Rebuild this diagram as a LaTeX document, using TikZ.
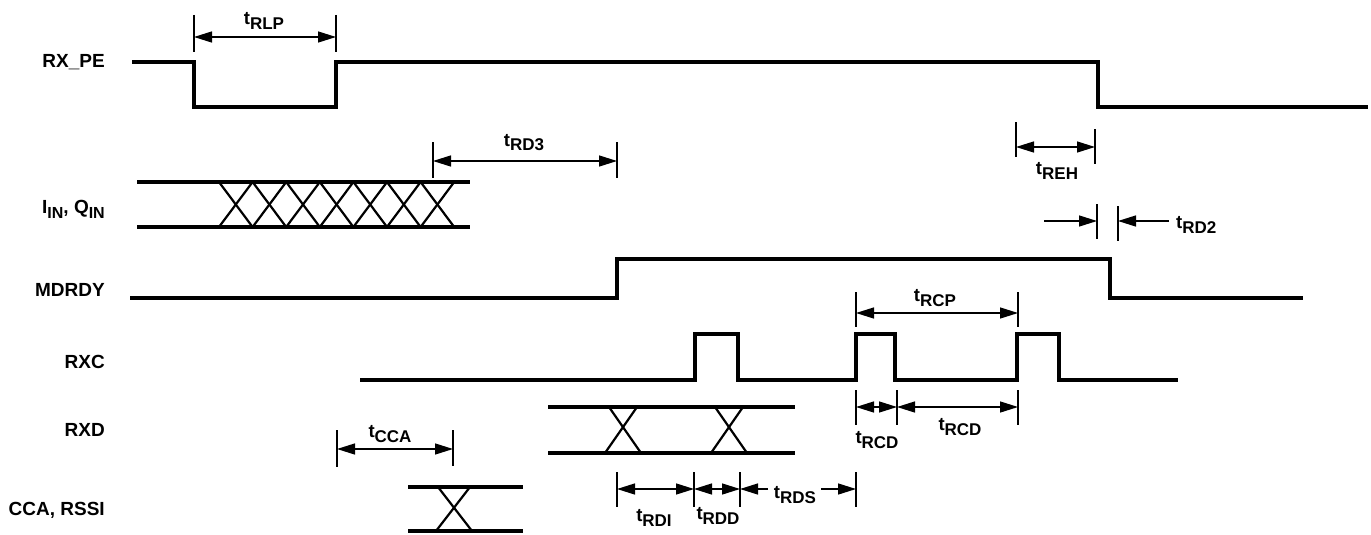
\documentclass[tikz,border=0pt]{standalone}
\usepackage{fontspec}
\setmainfont{Liberation Sans}
\usetikzlibrary{arrows.meta}

\tikzset{
  sig/.style={line width=4.5pt, line join=miter},
  xing/.style={line width=2.2pt},
  tick/.style={line width=1.4pt},
  dimarr/.style={line width=1.4pt, {Triangle[length=18pt,width=11pt]}-{Triangle[length=18pt,width=11pt]}},
  onearr/.style={line width=1.4pt, -{Triangle[length=18pt,width=11pt]}},
  siglabel/.style={font=\fontsize{19}{22}\selectfont\bfseries, anchor=east, inner sep=0pt},
  tlabel/.style={inner sep=0pt, anchor=base},
}
\newcommand{\tname}[1]{{\fontsize{18.5}{20}\selectfont\bfseries t\raisebox{-5pt}{\fontsize{17}{18}\selectfont #1}}}
\newcommand{\subIN}{\raisebox{-5pt}{\fontsize{16}{18}\selectfont IN}}

\begin{document}
\begin{tikzpicture}[x=1pt, y=-1pt]
    \useasboundingbox (0,0) rectangle (1371,535);

    % Signal names
    \node[siglabel] (rxpe) at (105,62) {RX\_PE};
    \node[siglabel, anchor=base east] (iq) at (105,213) {I\subIN, Q\subIN};
    \node[siglabel] (mdrdy) at (105,290) {MDRDY};
    \node[siglabel] (rxc) at (105,362) {RXC};
    \node[siglabel] (rxd) at (105,430) {RXD};
    \node[siglabel] (cca) at (105,510) {CCA, RSSI};

    % RX_PE
    \draw[sig] (132,62) -| (194,107) -| (336,62) -| (1098,107) -- (1368,107);

    % I_IN, Q_IN bus with crossings
    \draw[sig] (137,182) -- (470,182);
    \draw[sig] (137,227) -- (470,227);
    \foreach \i in {0,...,6}{
        \draw[xing] ({219+33.6*\i},182) -- ({219+33.6*(\i+1)},227);
        \draw[xing] ({219+33.6*\i},227) -- ({219+33.6*(\i+1)},182);
    }

    % MDRDY
    \draw[sig] (130,298) -| (617,259) -| (1110,298) -- (1303,298);

    % RXC
    \draw[sig] (360,380) -| (695,334) -| (738,380) -| (856,334) -| (895,380)
        -| (1017,334) -| (1059,380) -- (1178,380);

    % RXD bus
    \draw[sig] (548,407) -- (795,407);
    \draw[sig] (548,453) -- (795,453);
    \foreach \c in {623,729}{
        \draw[xing] (\c-14,407) -- (\c+18,453);
        \draw[xing] (\c+14,407) -- (\c-18,453);
    }

    % CCA, RSSI bus
    \draw[sig] (408,487) -- (523,487);
    \draw[sig] (408,531) -- (523,531);
    \draw[xing] (438,487) -- (472,531);
    \draw[xing] (470,487) -- (436,531);

    % t_RLP
    \draw[tick] (194,15) -- (194,52);
    \draw[tick] (336,15) -- (336,52);
    \draw[dimarr] (194,37) -- (336,37);
    \node[tlabel] (trlp) at (264,25) {\tname{RLP}};

    % t_RD3
    \draw[tick] (433,142) -- (433,178);
    \draw[tick] (617,142) -- (617,178);
    \draw[dimarr] (433,161) -- (617,161);
    \node[tlabel] (trd3) at (524,146) {\tname{RD3}};

    % t_REH
    \draw[tick] (1016,122) -- (1016,157);
    \draw[tick] (1095,129) -- (1095,164);
    \draw[dimarr] (1016,147) -- (1095,147);
    \node[tlabel] (treh) at (1057,174) {\tname{REH}};

    % t_RD2
    \draw[tick] (1097,204) -- (1097,239);
    \draw[tick] (1118,206) -- (1118,241);
    \draw[onearr] (1044,221) -- (1097,221);
    \draw[onearr] (1169,221) -- (1118,221);
    \node[tlabel, anchor=base west] (trd2) at (1176,228) {\tname{RD2}};

    % t_RCP
    \draw[tick] (856,292) -- (856,327);
    \draw[tick] (1018,292) -- (1018,327);
    \draw[dimarr] (856,313) -- (1018,313);
    \node[tlabel] (trcp) at (935,301) {\tname{RCP}};

    % t_RCD (high and low)
    \draw[tick] (856,390) -- (856,425);
    \draw[tick] (897,390) -- (897,425);
    \draw[tick] (1018,390) -- (1018,425);
    \draw[dimarr] (856,407) -- (897,407);
    \draw[dimarr] (897,407) -- (1018,407);
    \node[tlabel] (trcda) at (877,443) {\tname{RCD}};
    \node[tlabel] (trcdb) at (960,430) {\tname{RCD}};

    % t_CCA
    \draw[tick] (337,430) -- (337,467);
    \draw[tick] (453,430) -- (453,466);
    \draw[dimarr] (337,449) -- (453,449);
    \node[tlabel] (tcca) at (390,437) {\tname{CCA}};

    % t_RDI, t_RDD, t_RDS
    \draw[tick] (617,472) -- (617,507);
    \draw[tick] (694,472) -- (694,507);
    \draw[tick] (740,472) -- (740,507);
    \draw[tick] (856,472) -- (856,507);
    \draw[dimarr] (617,489) -- (694,489);
    \draw[dimarr] (694,489) -- (740,489);
    \draw[onearr] (768,489) -- (740,489);
    \draw[onearr] (821,489) -- (856,489);
    \node[tlabel] (trdi) at (654,521) {\tname{RDI}};
    \node[tlabel] (trdd) at (718,519) {\tname{RDD}};
    \node[tlabel] (trds) at (795,498) {\tname{RDS}};
\end{tikzpicture}
\end{document}
